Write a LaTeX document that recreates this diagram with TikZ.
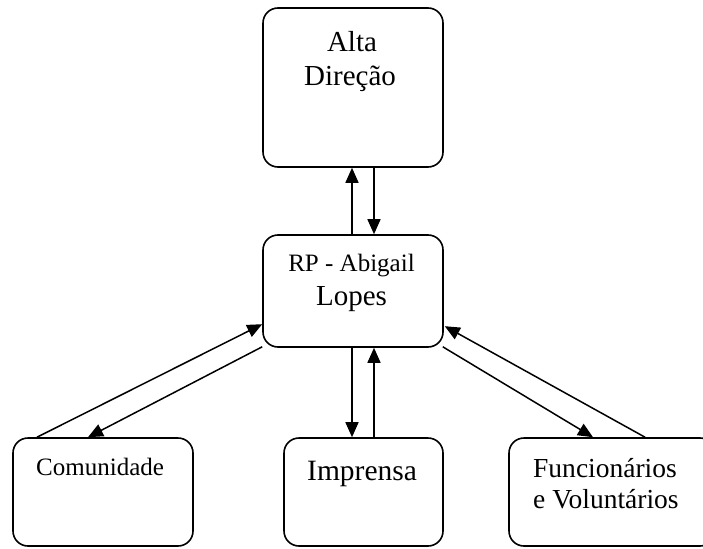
\documentclass[tikz,border=0pt]{standalone}
\usepackage{fontspec}
\setmainfont{Liberation Serif}
\usetikzlibrary{arrows.meta}
\begin{document}
\begin{tikzpicture}[x=1pt,y=-1pt,
  box/.style={draw=black, line width=1.6pt, rounded corners=15pt, inner sep=0pt, fill=white},
  arr/.style={draw=black, line width=1.5pt, -{Triangle[length=15pt,width=13pt]}},
  lbl/.style={inner sep=0pt, text=black}]
\useasboundingbox (0,0) rectangle (703,548);
\fill[white] (0,0) rectangle (703,548);
% boxes
\node[box, minimum width=180pt, minimum height=159pt] (alta) at (353,87.5) {};
\node[box, minimum width=180pt, minimum height=112pt] (rp) at (353,291) {};
\node[box, minimum width=180pt, minimum height=108pt] (com) at (103,492) {};
\node[box, minimum width=159pt, minimum height=108pt] (imp) at (363.5,492) {};
\node[box, minimum width=206pt, minimum height=108pt] (fun) at (612,492) {};
% texts
\node[lbl, anchor=base, font=\fontsize{29}{33}\selectfont] (t1) at (352,52) {Alta};
\node[lbl, anchor=base, font=\fontsize{29}{33}\selectfont] (t2) at (350,86) {Direção};
\node[lbl, anchor=base, font=\fontsize{25}{29}\selectfont] (t3) at (351.5,271) {RP - Abigail};
\node[lbl, anchor=base, font=\fontsize{29}{33}\selectfont] (t4) at (351.5,305) {Lopes};
\node[lbl, anchor=base west, font=\fontsize{25}{29}\selectfont] (t5) at (36,475) {Comunidade};
\node[lbl, anchor=base west, font=\fontsize{29.5}{33}\selectfont] (t6) at (307,480) {Imprensa};
\node[lbl, anchor=base west, font=\fontsize{27.5}{32}\selectfont] (t7) at (533,477) {Funcionários};
\node[lbl, anchor=base west, font=\fontsize{27.5}{32}\selectfont] (t8) at (533,508) {e Voluntários};
% connectors alta <-> rp
\draw[arr] ([xshift=-1pt]rp.north) -- ([xshift=-1pt]alta.south);
\draw[arr] ([xshift=21pt]alta.south) -- ([xshift=21pt]rp.north);
% rp <-> imprensa
\draw[arr] ([xshift=-1pt]rp.south) -- ([xshift=-1pt]rp.south |- imp.north);
\draw[arr] ([xshift=21pt]rp.south |- imp.north) -- ([xshift=21pt]rp.south);
% rp <-> comunidade
\draw[arr] ([xshift=-66pt]com.north) -- ([yshift=-90pt]rp.north west);
\draw[arr] ([yshift=1pt]rp.south west) -- ([xshift=-15pt]com.north);
% rp <-> funcionarios
\draw[arr] ([xshift=33pt]fun.north) -- ([xshift=1pt,yshift=-92pt]rp.north east);
\draw[arr] ([xshift=-1pt,yshift=1pt]rp.south east) -- ([xshift=-19pt]fun.north);
\end{tikzpicture}
\end{document}
